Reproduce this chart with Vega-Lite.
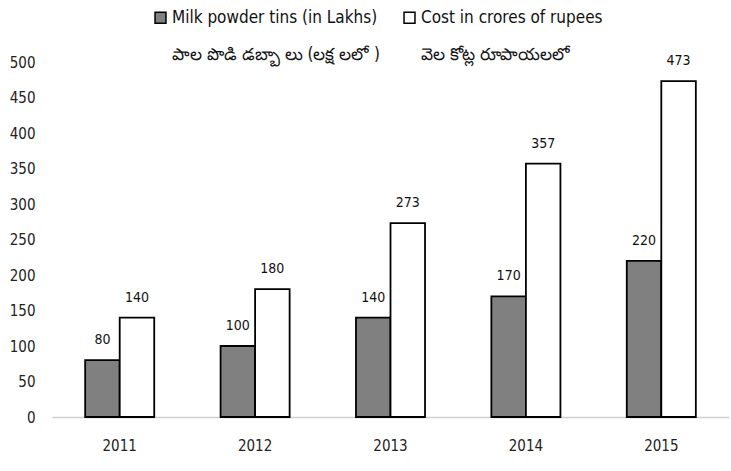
{
  "$schema": "https://vega.github.io/schema/vega-lite/v6.json",
  "width": 677,
  "height": 355,
  "autosize": {"type": "none"},
  "padding": {"left": 52, "top": 62, "right": 2, "bottom": 54},
  "background": "white",
  "config": {
    "view": {"stroke": null},
    "font": "DejaVu Sans Condensed, Liberation Sans, sans-serif",
    "axis": {"labelFont": "DejaVu Sans Condensed, Liberation Sans, sans-serif", "labelColor": "#222222", "labelFontSize": 15},
    "style": {"guide-label": {"lineHeight": 37, "fontSize": 15}}
  },
  "data": {
    "values": [
      {"year": "2011", "series": "Milk powder tins (in Lakhs)", "value": 80},
      {"year": "2011", "series": "Cost in crores of rupees", "value": 140},
      {"year": "2012", "series": "Milk powder tins (in Lakhs)", "value": 100},
      {"year": "2012", "series": "Cost in crores of rupees", "value": 180},
      {"year": "2013", "series": "Milk powder tins (in Lakhs)", "value": 140},
      {"year": "2013", "series": "Cost in crores of rupees", "value": 273},
      {"year": "2014", "series": "Milk powder tins (in Lakhs)", "value": 170},
      {"year": "2014", "series": "Cost in crores of rupees", "value": 357},
      {"year": "2015", "series": "Milk powder tins (in Lakhs)", "value": 220},
      {"year": "2015", "series": "Cost in crores of rupees", "value": 473}
    ]
  },
  "encoding": {
    "x": {
      "field": "year", "type": "nominal",
      "scale": {"paddingInner": 0.49, "paddingOuter": 0.245},
      "axis": {"title": null, "labelAngle": 0, "ticks": false, "domainColor": "#d0d0d0", "domainWidth": 1.5, "labelPadding": 21, "labelFontSize": 15}
    },
    "xOffset": {"field": "series", "type": "nominal", "sort": ["Milk powder tins (in Lakhs)", "Cost in crores of rupees"]},
    "y": {
      "field": "value", "type": "quantitative",
      "scale": {"domain": [0, 500]},
      "axis": {"title": null, "values": [0, 50, 100, 150, 200, 250, 300, 350, 400, 450, 500], "grid": false, "domain": false, "ticks": false, "labelPadding": 17, "labelFontSize": 15}
    }
  },
  "layer": [
    {
      "mark": {"type": "bar", "stroke": "black", "strokeWidth": 1.8},
      "encoding": {
        "fill": {
          "field": "series", "type": "nominal",
          "sort": ["Milk powder tins (in Lakhs)", "Cost in crores of rupees"],
          "scale": {"domain": ["Milk powder tins (in Lakhs)", "Cost in crores of rupees"], "range": ["#808080", "#ffffff"]},
          "legend": {
            "orient": "none", "legendX": 100, "legendY": -53,
            "direction": "horizontal", "title": null,
            "symbolType": "square", "symbolSize": 120, "symbolStrokeColor": "black", "symbolStrokeWidth": 1.5,
            "labelFontSize": 17, "labelColor": "#111111", "labelFont": "DejaVu Sans Condensed, Liberation Sans, sans-serif",
            "labelLimit": 400, "columnPadding": 20, "labelOffset": 3,
            "labelExpr": "datum.label == 'Milk powder tins (in Lakhs)' ? ['Milk powder tins (in Lakhs)', 'పాల పొడి డబ్బా లు (లక్ష లలో )'] : ['Cost in crores of rupees', 'వెల కోట్ల రూపాయలలో']"
          }
        }
      }
    },
    {
      "mark": {"type": "text", "dy": -20, "fontSize": 14, "color": "#111111"},
      "encoding": {"text": {"field": "value", "type": "quantitative"}}
    }
  ]
}
